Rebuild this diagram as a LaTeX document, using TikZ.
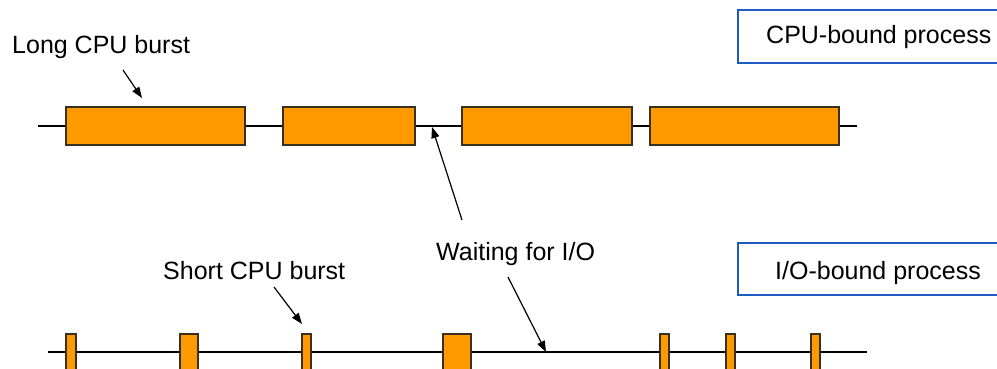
\documentclass[tikz,border=0pt]{standalone}
\usepackage{fontspec}
\setmainfont{Liberation Sans}
\usetikzlibrary{arrows.meta}
\definecolor{burstorange}{HTML}{FF9900}
\definecolor{burstedge}{HTML}{3A3020}
\definecolor{legendblue}{HTML}{1F5BC4}
\begin{document}
\begin{tikzpicture}[x=1pt,y=-1pt,
  burst/.style={draw=burstedge,fill=burstorange,line width=1.1pt,inner sep=0pt,outer sep=0pt,rectangle},
  timeline/.style={draw=black,line width=1.1pt},
  lbl/.style={font=\fontsize{25}{30}\selectfont,inner sep=0pt,anchor=base west},
  legend/.style={draw=legendblue,line width=1.4pt,rectangle,inner sep=0pt,outer sep=0pt},
  pointer/.style={draw=black,line width=1.2pt,-{Triangle[length=11pt,width=8pt]}}]
\useasboundingbox (0,0) rectangle (997,368);
\clip (0,0) rectangle (997,368);
% legend boxes
\node[legend,minimum width=282pt,minimum height=53pt,anchor=north west] (cpubox) at (738,10) {};
\node[lbl] (cputxt) at (766,43) {CPU-bound process};
\node[legend,minimum width=282pt,minimum height=52pt,anchor=north west] (iobox) at (738,243) {};
\node[lbl] (iotxt) at (775,279) {I/O-bound process};
% top timeline
\coordinate (ts) at (38,126);
\coordinate (te) at (857,126);
\draw[timeline] (ts) -- (te);
\node[burst,minimum width=179pt,minimum height=38pt] (c1) at (155.5,126) {};
\node[burst,minimum width=132pt,minimum height=38pt] (c2) at (349,126) {};
\node[burst,minimum width=170pt,minimum height=38pt] (c3) at (547,126) {};
\node[burst,minimum width=189pt,minimum height=38pt] (c4) at (744.5,126) {};
% bottom timeline
\coordinate (bs) at (48,352);
\coordinate (be) at (867,352);
\draw[timeline] (bs) -- (be);
\node[burst,minimum width=10pt,minimum height=36pt] (i1) at (71,352) {};
\node[burst,minimum width=18pt,minimum height=36pt] (i2) at (189,352) {};
\node[burst,minimum width=9pt,minimum height=36pt] (i3) at (306.5,352) {};
\node[burst,minimum width=28pt,minimum height=36pt] (i4) at (457,352) {};
\node[burst,minimum width=9pt,minimum height=36pt] (i5) at (664.5,352) {};
\node[burst,minimum width=9pt,minimum height=36pt] (i6) at (730.5,352) {};
\node[burst,minimum width=9pt,minimum height=36pt] (i7) at (815.5,352) {};
% labels
\node[lbl] (longlbl) at (12,53) {Long CPU burst};
\node[lbl] (shortlbl) at (163,279) {Short CPU burst};
\node[lbl] (waitlbl) at (436,260) {Waiting for I/O};
% pointer arrows
\coordinate (p1s) at (123,70);
\coordinate (p1e) at (142,98);
\draw[pointer] (p1s) -- (p1e);
\coordinate (p2s) at (274,287);
\coordinate (p2e) at (302,324);
\draw[pointer] (p2s) -- (p2e);
\coordinate (w1s) at (462,220);
\coordinate (w1e) at (432,127);
\draw[pointer] (w1s) -- (w1e);
\coordinate (w2s) at (508,277);
\coordinate (w2e) at (546,352);
\draw[pointer] (w2s) -- (w2e);
\end{tikzpicture}
\end{document}
